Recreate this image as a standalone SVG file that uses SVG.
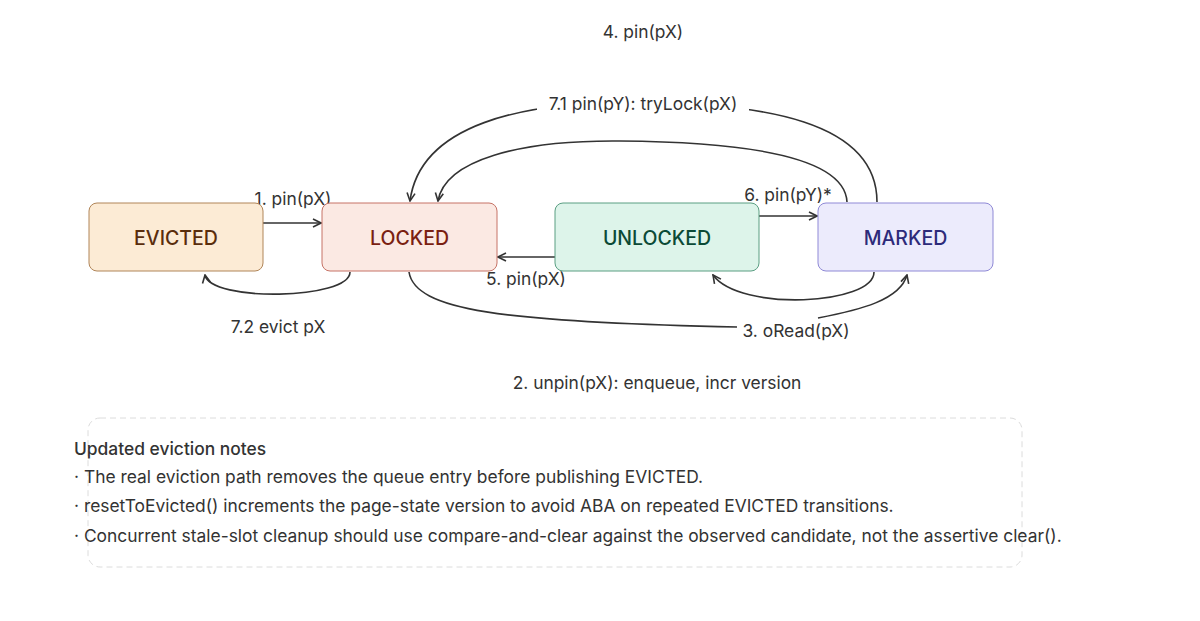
<svg xmlns="http://www.w3.org/2000/svg" width="1200" height="621" viewBox="0 0 1200 621">
<style>
.lbl{font-family:Inter,"Noto Sans",sans-serif;font-size:17.4px;fill:#333;}
.nt{font-family:Inter,"Noto Sans",sans-serif;font-size:19.5px;font-weight:500;text-anchor:middle;dominant-baseline:central;}
.edge{fill:none;stroke:#333;stroke-width:1.6;}
.note{font-family:Inter,"Noto Sans",sans-serif;font-size:17.4px;fill:#333;}
</style>
<defs>
<marker id="arr" viewBox="0 0 10 10" refX="9" refY="5" markerWidth="10" markerHeight="10" markerUnits="userSpaceOnUse" orient="auto">
<path d="M1,1 L9,5 L1,9" fill="none" stroke="#333" stroke-width="1.6"/>
</marker>
</defs>
<rect width="1200" height="621" fill="#fff"/>
<g id="connectors">
<path class="edge" d="M263,223 L321,223" marker-end="url(#arr)"/>
<path class="edge" d="M350,272 C350,300 210,302 205,275" marker-end="url(#arr)"/>
<path class="edge" d="M555,257 L498,257" marker-end="url(#arr)"/>
<path class="edge" d="M759,216 L817,216" marker-end="url(#arr)"/>
<path class="edge" d="M874,272 C874,305 740,312 713,275" marker-end="url(#arr)"/>
<path class="edge" d="M409,272 C415,310 500,322 737,327"/>
<path class="edge" d="M818,318 C860,310 900,300 907,275" marker-end="url(#arr)"/>
<path class="edge" d="M877,202 C877,120 760,104 643,102 C520,101 420,125 410,201" marker-end="url(#arr)"/>
<path class="edge" d="M847,202 C845,160 760,142 620,141 C520,140 445,160 438,201" marker-end="url(#arr)"/>
<rect x="537" y="92" width="212" height="24" fill="#fff"/>
<text class="lbl" x="643" y="110" text-anchor="middle">7.1 pin(pY): tryLock(pX)</text>
<text class="lbl" x="643" y="38" text-anchor="middle">4. pin(pX)</text>
<text class="lbl" x="293" y="205" text-anchor="middle">1. pin(pX)</text>
<text class="lbl" x="278" y="333" text-anchor="middle">7.2 evict pX</text>
<text class="lbl" x="526" y="285" text-anchor="middle">5. pin(pX)</text>
<text class="lbl" x="788" y="201" text-anchor="middle">6. pin(pY)*</text>
<text class="lbl" x="796" y="337" text-anchor="middle">3. oRead(pX)</text>
<text class="lbl" x="657" y="389" text-anchor="middle">2. unpin(pX): enqueue, incr version</text>
</g>
<g id="EVICTED">
<rect x="89" y="203" width="174" height="68" rx="8" fill="#fcebd5" stroke="#b08558" stroke-width="1"/>
<text class="nt" x="176" y="238" fill="#5a2d0c">EVICTED</text>
</g>
<g id="LOCKED">
<rect x="322" y="203" width="175" height="68" rx="8" fill="#fbe9e3" stroke="#c67366" stroke-width="1"/>
<text class="nt" x="409.5" y="238" fill="#7a1f12">LOCKED</text>
</g>
<g id="UNLOCKED">
<rect x="555" y="203" width="204" height="68" rx="8" fill="#ddf4ea" stroke="#5a9e82" stroke-width="1"/>
<text class="nt" x="657" y="238" fill="#0b4a36">UNLOCKED</text>
</g>
<g id="MARKED">
<rect x="818" y="203" width="175" height="68" rx="8" fill="#ecebfc" stroke="#8f89d6" stroke-width="1"/>
<text class="nt" x="905.5" y="238" fill="#2d2a7a">MARKED</text>
</g>
<g id="notes">
<rect x="88" y="418" width="934" height="149" rx="12" fill="none" stroke="#dcdcdc" stroke-width="1" stroke-dasharray="6 4"/>
<text class="note" x="74" y="455" font-weight="500">Updated eviction notes</text>
<text class="note" x="74" y="483">· The real eviction path removes the queue entry before publishing EVICTED.</text>
<text class="note" x="74" y="512">· resetToEvicted() increments the page-state version to avoid ABA on repeated EVICTED transitions.</text>
<text class="note" x="74" y="542">· Concurrent stale-slot cleanup should use compare-and-clear against the observed candidate, not the assertive clear().</text>
</g>
</svg>
